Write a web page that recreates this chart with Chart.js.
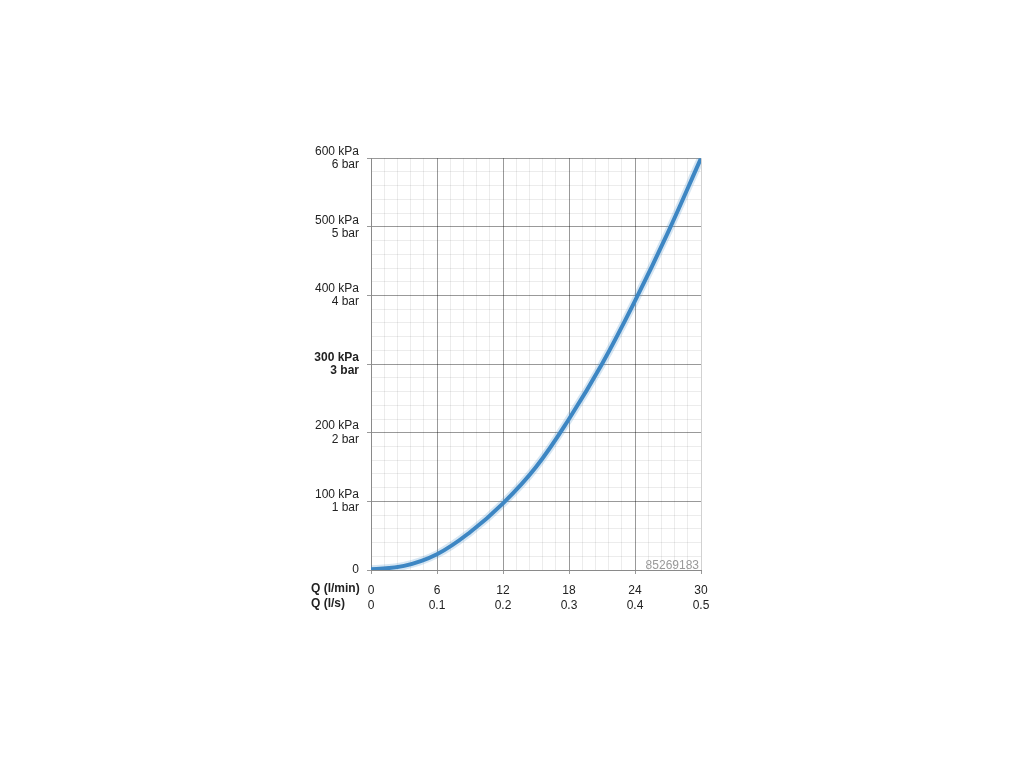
<!DOCTYPE html>
<html>
<head>
<meta charset="utf-8">
<script src="https://cdn.jsdelivr.net/npm/chart.js@4"></script>
<style>
  html, body { margin: 0; padding: 0; background: #fff; }
  #wrap { position: absolute; left: 300px; top: 137px; width: 430px; height: 483px; }
</style>
</head>
<body>
<div id="wrap"><canvas id="chart"></canvas></div>
<script>
// flow in l/min, pressure in kPa
const flowLpm = [0, 3, 6, 9, 12, 15, 18, 21, 24, 27, 30];
const pressureKpa = [1, 6, 23, 55, 97, 150, 220, 300, 392, 492, 600];
const xMajor = [0, 6, 12, 18, 24, 30];
const xSecond = ['0', '0.1', '0.2', '0.3', '0.4', '0.5'];
const yMajor = [0, 100, 200, 300, 400, 500, 600];
const axisTitles = ['Q (l/min)', 'Q (l/s)'];
const watermark = '85269183';

const FONT = '"Liberation Sans", Arial, Helvetica, sans-serif';
const MAJOR = 'rgba(0,0,0,0.4)';
const MINOR = 'rgba(0,0,0,0.075)';

function isMult(v, m) {
    return Math.abs(v / m - Math.round(v / m)) < 1e-6;
}

const points = flowLpm.map((q, i) => ({ x: q, y: pressureKpa[i] }));

// texte à gauche des étiquettes de l'axe x + numéro en bas à droite
const extraText = {
    id: 'extraText',
    afterDraw(chart) {
        const ctx = chart.ctx;
        const area = chart.chartArea;
        ctx.save();
        ctx.font = 'bold 12px ' + FONT;
        ctx.fillStyle = '#222';
        ctx.textAlign = 'left';
        ctx.textBaseline = 'middle';
        ctx.fillText(axisTitles[0], 11, area.bottom + 19);
        ctx.fillText(axisTitles[1], 11, area.bottom + 34);
        ctx.font = '12px ' + FONT;
        ctx.fillStyle = '#9a9a9a';
        ctx.textAlign = 'right';
        ctx.textBaseline = 'alphabetic';
        ctx.fillText(watermark, area.right - 2, area.bottom - 1);
        ctx.restore();
    }
};

new Chart(document.getElementById('chart'), {
    type: 'scatter',
    data: {
        datasets: [{
            data: points,
            showLine: true,
            borderColor: 'rgba(70,140,200,0.22)',
            borderWidth: 8,
            pointRadius: 0,
            tension: 0.4
        }, {
            data: points,
            showLine: true,
            borderColor: '#3b85c2',
            borderWidth: 4,
            pointRadius: 0,
            tension: 0.4
        }]
    },
    options: {
        responsive: true,
        maintainAspectRatio: false,
        animation: false,
        layout: { padding: { top: 0, right: 29, bottom: 0, left: 0 } },
        plugins: { legend: { display: false }, tooltip: { enabled: false } },
        scales: {
            x: {
                type: 'linear',
                min: 0,
                max: 30,
                afterFit(scale) { scale.height = 50; },
                border: { color: '#8a8a8a', width: 1 },
                ticks: {
                    stepSize: 1.2,
                    autoSkip: false,
                    maxRotation: 0,
                    padding: 9,
                    color: '#222',
                    font: { family: FONT, size: 12, lineHeight: 1.25 },
                    callback(v) {
                        const i = xMajor.findIndex(m => Math.abs(m - v) < 1e-6);
                        return i >= 0 ? [String(xMajor[i]), xSecond[i]] : '';
                    }
                },
                grid: {
                    tickLength: 4,
                    color(ctx) {
                        const v = ctx.tick.value;
                        if (Math.abs(v - 30) < 1e-6) return 'rgba(0,0,0,0.18)';
                        return isMult(v, 6) ? MAJOR : MINOR;
                    },
                    tickColor(ctx) {
                        return isMult(ctx.tick.value, 6) ? MAJOR : 'rgba(0,0,0,0)';
                    }
                }
            },
            y: {
                type: 'linear',
                min: 0,
                max: 600,
                afterFit(scale) { scale.width = 71; },
                border: { color: '#8a8a8a', width: 1 },
                ticks: {
                    stepSize: 20,
                    autoSkip: false,
                    padding: 8,
                    color: '#222',
                    font(ctx) {
                        const bold = ctx.tick && ctx.tick.value === 300;
                        return { family: FONT, size: 12, lineHeight: 1.1, weight: bold ? 'bold' : 'normal' };
                    },
                    callback(v) {
                        if (!yMajor.includes(v)) return '';
                        if (v === 0) return '0';
                        return [v + ' kPa', (v / 100) + ' bar'];
                    }
                },
                grid: {
                    tickLength: 4,
                    color(ctx) {
                        return isMult(ctx.tick.value, 100) ? MAJOR : MINOR;
                    },
                    tickColor(ctx) {
                        return isMult(ctx.tick.value, 100) ? MAJOR : 'rgba(0,0,0,0)';
                    }
                }
            }
        }
    },
    plugins: [extraText]
});
</script>
</body>
</html>
